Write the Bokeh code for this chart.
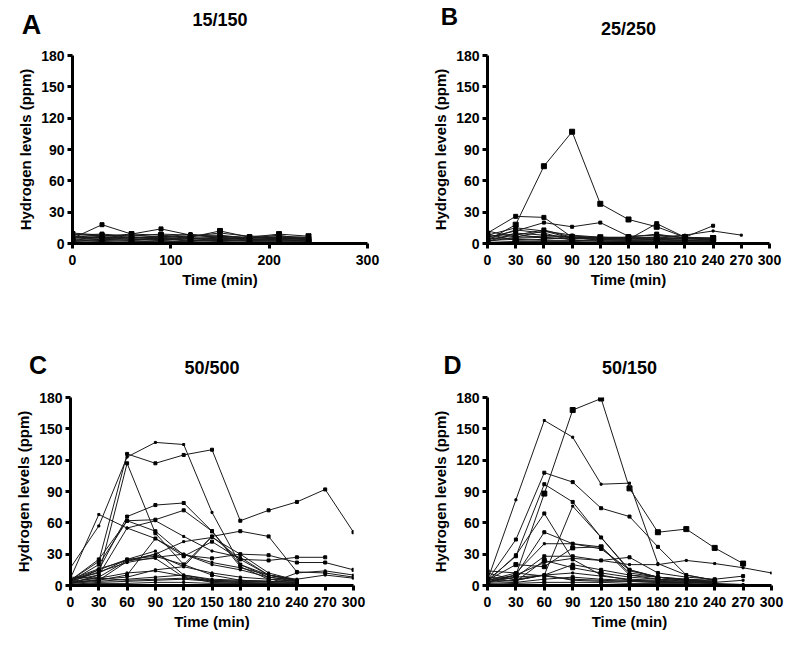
from bokeh.plotting import figure
from bokeh.layouts import column, row
from bokeh.models import Label, FixedTicker, Range1d
from bokeh.embed import file_html
from bokeh.resources import INLINE

time_points = [0, 30, 60, 90, 120, 150, 180, 210, 240, 270, 300]
y_ticks = [0, 30, 60, 90, 120, 150, 180]
a_x_ticks = [0, 100, 200, 300]
bcd_x_ticks = [0, 30, 60, 90, 120, 150, 180, 210, 240, 270, 300]
panel_letters = ["A", "B", "C", "D"]
panel_titles = ["15/150", "25/250", "50/500", "50/150"]
x_label = "Time (min)"
y_label = "Hydrogen levels (ppm)"

series_a = [
    [5, 18, 9, 14, 8, 7, 6, 5, 5],
    [9, 7, 9, 8, 6, 12, 6, 9, 7],
    [8, 9, 7, 9, 8, 8, 5, 6, 5],
    [6, 8, 6, 6, 7, 10, 7, 7, 6],
    [4, 6, 5, 7, 5, 6, 4, 5, 4],
    [7, 5, 4, 5, 3, 4, 5, 8, 3],
    [3, 4, 3, 4, 3, 3, 3, 3, 3],
    [2, 3, 2, 2, 2, 3, 2, 2, 2],
    [5, 7, 8, 6, 9, 5, 6, 4, 6],
    [1, 2, 1, 3, 1, 2, 1, 1, 1],
    [6, 5, 6, 4, 6, 7, 5, 6, 5],
    [3, 6, 4, 3, 5, 4, 3, 4, 2],
    [10, 8, 5, 6, 4, 5, 4, 3, 4],
    [2, 4, 3, 5, 2, 6, 3, 4, 3],
]
marker_a = [4, 5, 4, 3, 5, 3, 4, 5, 3, 4, 3, 5, 3, 4]

series_b = [
    [3, 18, 74, 107, 38, 23, 16, 6, 5],
    [10, 26, 25, 6, 5, 5, 5, 5, 5],
    [6, 12, 20, 16, 20, 7, 8, 6, 17],
    [4, 8, 13, 6, 5, 4, 19, 6, 4],
    [12, 6, 12, 8, 6, 5, 6, 8, 12, 8],
    [8, 15, 12, 5, 4, 3, 4, 3, 3],
    [2, 10, 8, 6, 5, 6, 9, 5, 3],
    [5, 5, 6, 4, 6, 5, 5, 4, 5],
    [3, 4, 3, 3, 3, 3, 3, 3, 2],
    [1, 2, 2, 2, 1, 2, 2, 1, 1],
    [7, 9, 5, 5, 4, 4, 4, 3, 4],
    [4, 13, 10, 3, 2, 2, 2, 2, 2],
    [9, 3, 4, 6, 3, 6, 3, 6, 5],
    [2, 6, 7, 7, 6, 6, 6, 5, 5],
]
marker_b = [5, 4, 3, 4, 2, 3, 4, 5, 4, 5, 3, 4, 5, 4]

series_c = [
    [5, 23, 126, 117, 125, 130, 62, 72, 80, 92, 51],
    [17, 57, 123, 137, 135, 70, 20, 10, 5],
    [5, 10, 117, 50, 20, 10, 5, 4, 3],
    [7, 68, 55, 45, 30, 20, 15, 8, 5],
    [3, 15, 66, 77, 79, 52, 20, 8, 4],
    [4, 20, 62, 63, 72, 52, 18, 6, 4],
    [2, 10, 55, 62, 47, 33, 27, 10, 5],
    [5, 25, 62, 52, 29, 26, 30, 29, 22, 22, 15],
    [5, 15, 25, 28, 20, 47, 52, 47, 13, 12, 8],
    [3, 5, 10, 45, 28, 42, 25, 24, 27, 27],
    [3, 8, 24, 30, 42, 46, 30, 12, 5],
    [2, 6, 8, 15, 18, 47, 25, 10, 5],
    [4, 13, 22, 27, 30, 22, 17, 10, 6, 10, 7],
    [6, 12, 25, 33, 10, 5, 4, 3, 2],
    [2, 4, 6, 8, 10, 6, 5, 4, 3],
    [1, 3, 4, 5, 6, 4, 3, 2, 2],
    [8, 7, 5, 6, 7, 5, 4, 4, 3],
    [3, 5, 23, 30, 18, 12, 8, 6, 4],
    [6, 16, 24, 26, 8, 3, 2, 2, 1],
    [1, 2, 2, 3, 3, 2, 2, 1, 1],
    [4, 7, 12, 14, 9, 4, 3, 2, 12, 14, 10],
]
marker_c = [3, 2, 3, 2, 3, 3, 2, 3, 3, 3, 2, 2, 2, 2, 2, 2, 2, 2, 2, 2, 2]

series_d = [
    [3, 10, 88, 168, 179, 93, 51, 54, 36, 21],
    [5, 82, 158, 142, 97, 98, 21, 10, 5],
    [5, 44, 108, 99, 74, 66, 37, 10, 5],
    [5, 28, 97, 80, 46, 15, 8, 5, 3],
    [3, 5, 10, 76, 46, 14, 8, 5, 3],
    [4, 29, 69, 25, 10, 5, 4, 3, 2],
    [3, 10, 51, 40, 35, 15, 8, 5, 3],
    [5, 10, 22, 26, 24, 20, 20, 24, 21, 17, 12],
    [5, 12, 40, 40, 37, 12, 8, 6, 4],
    [4, 8, 28, 28, 24, 27, 12, 8, 6, 9],
    [5, 20, 18, 36, 37, 10, 6, 4, 3],
    [12, 5, 10, 20, 15, 10, 8, 6, 5],
    [2, 3, 6, 8, 6, 5, 4, 3, 2],
    [8, 6, 10, 5, 4, 4, 3, 3, 2, 1],
    [1, 2, 3, 3, 3, 2, 2, 2, 1],
    [6, 4, 24, 17, 12, 8, 6, 5, 4],
    [3, 8, 10, 12, 9, 6, 5, 4, 3, 5],
    [14, 12, 9, 6, 5, 4, 3, 3, 3],
]
marker_d = [5, 2, 3, 3, 2, 3, 3, 2, 2, 3, 4, 3, 3, 2, 3, 4, 2, 3]

FONT = "Liberation Sans"


def make_header(width, height, items):
    h = figure(width=width, height=height, output_backend="svg",
               toolbar_location=None, title_location=None,
               x_range=Range1d(0, width), y_range=Range1d(0, height),
               x_axis_type=None, y_axis_type=None,
               min_border_left=0, min_border_right=0,
               min_border_top=0, min_border_bottom=0)
    h.outline_line_color = None
    h.grid.visible = False
    for text, x, y, size in items:
        h.add_layout(Label(x=x, y=y, text=text,
                           text_align="center", text_baseline="middle",
                           text_font=FONT, text_font_style="bold",
                           text_font_size=size, text_color="black"))
    return h


def make_panel(series, markers, xticks, width, height,
               left, right, top, bottom):
    p = figure(width=width, height=height, output_backend="svg",
               toolbar_location=None, title_location=None,
               x_range=Range1d(0, 300), y_range=Range1d(0, 180),
               min_border_left=left, min_border_right=right,
               min_border_top=top, min_border_bottom=bottom)
    p.outline_line_color = None
    p.grid.visible = False
    for s, m in zip(series, markers):
        xs = time_points[:len(s)]
        p.line(xs, s, line_color="#1a1a1a", line_width=1)
        p.scatter(xs, s, marker="square", size=m, color="black")
    p.xaxis.ticker = FixedTicker(ticks=xticks)
    p.yaxis.ticker = FixedTicker(ticks=y_ticks)
    for ax in (p.xaxis[0], p.yaxis[0]):
        ax.axis_line_width = 3
        ax.major_tick_line_width = 3
        ax.major_tick_out = 5
        ax.major_tick_in = 0
        ax.minor_tick_line_color = None
        ax.major_label_text_font = FONT
        ax.major_label_text_font_style = "bold"
        ax.major_label_text_font_size = "14px"
        ax.major_label_text_color = "black"
        ax.axis_label_text_font = FONT
        ax.axis_label_text_font_style = "bold"
        ax.axis_label_text_font_size = "15px"
        ax.axis_label_text_color = "black"
    p.xaxis.axis_label = x_label
    p.yaxis.axis_label = y_label
    p.xaxis.major_label_standoff = 6
    p.yaxis.major_label_standoff = 3
    p.xaxis.axis_label_standoff = 3
    p.yaxis.axis_label_standoff = 4
    return p


top_header = make_header(800, 41, [
    (panel_letters[0], 31, 16.5, "27px"),
    (panel_titles[0], 219.5, 22, "18px"),
    (panel_letters[1], 449, 25, "24px"),
    (panel_titles[1], 628, 13, "18px"),
])
pa = make_panel(series_a, marker_a, a_x_ticks, 400, 259, 72, 33, 7, 57)
pb = make_panel(series_b, marker_b, bcd_x_ticks, 400, 259, 87, 31, 14, 57)

bottom_header = make_header(800, 88, [
    (panel_letters[2], 37.5, 24, "25px"),
    (panel_titles[2], 211.5, 21, "18px"),
    (panel_letters[3], 452, 24, "25px"),
    (panel_titles[3], 629, 21, "18px"),
])
pc = make_panel(series_c, marker_c, bcd_x_ticks, 400, 255, 70, 47, 9, 58)
pd = make_panel(series_d, marker_d, bcd_x_ticks, 400, 255, 87, 29, 9, 58)

layout = column(top_header, row(pa, pb), bottom_header, row(pc, pd))
open("out.html", "w").write(file_html(layout, INLINE))
